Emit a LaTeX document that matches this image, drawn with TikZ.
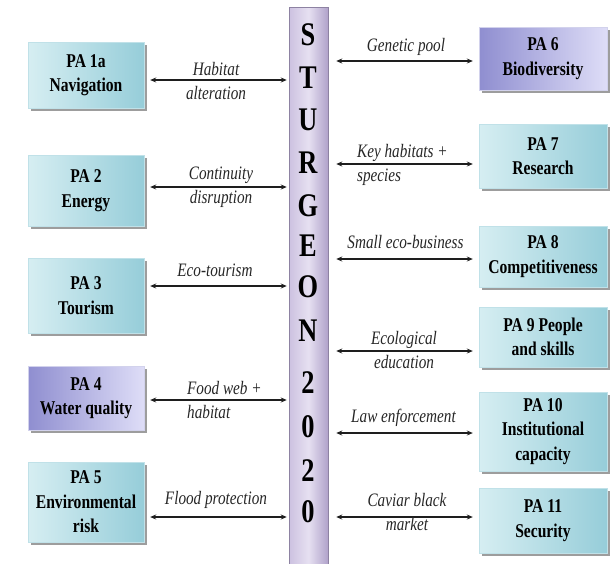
\documentclass[tikz,border=0pt]{standalone}
\usepackage{fontspec}
\setmainfont{Liberation Serif}
\newfontfamily\cf{Liberation Serif}[FakeStretch=0.8]
\usetikzlibrary{arrows.meta,shadows}
\definecolor{tealL}{HTML}{D6EEF2}
\definecolor{tealD}{HTML}{96CDD9}
\definecolor{lavD}{HTML}{8F8ED0}
\definecolor{lavL}{HTML}{DEDDF7}
\definecolor{barL}{HTML}{CCC1E0}
\definecolor{barM}{HTML}{E6E0F1}
\definecolor{barR}{HTML}{B0A2CA}
\definecolor{arrowc}{HTML}{1E1E1E}
\tikzset{
 pabox/.style={rectangle, inner sep=0pt, left color=tealL, right color=tealD, draw=tealD!60!white, line width=0.4pt,
   drop shadow={shadow xshift=2.5pt, shadow yshift=-2.5pt, fill=black!55, opacity=0.7},
   align=center, font=\cf\bfseries\fontsize{19.5}{24.5}\selectfont, text=black},
 lavbox/.style={pabox, left color=lavD, right color=lavL, draw=lavD!40!white},
 lbl/.style={align=center, font=\cf\itshape\fontsize{19}{23.5}\selectfont, text=black!85, inner sep=2pt},
 lbll/.style={lbl, align=left, anchor=west},
 link/.style={{Stealth[length=6pt,width=5pt]}-{Stealth[length=6pt,width=5pt]}, line width=1.1pt, draw=arrowc},
 letter/.style={font=\cf\bfseries\fontsize{33}{33}\selectfont, inner sep=0pt, text=black}
}
\begin{document}
\begin{tikzpicture}[x=1pt,y=-1pt]
\useasboundingbox (0,0) rectangle (612,563);
% central bar
\node[rectangle, inner sep=0pt, minimum width=39pt, minimum height=558pt,
  left color=barL, right color=barR, middle color=barM, draw=barR!80!black, line width=0.5pt] (bar) at (308.5,286) {};
\node[letter] (l1) at (308,35) {S};
\node[letter] (l2) at (308,78) {T};
\node[letter] (l3) at (308,120) {U};
\node[letter] (l4) at (308,163) {R};
\node[letter] (l5) at (308,206) {G};
\node[letter] (l6) at (308,246) {E};
\node[letter] (l7) at (308,287) {O};
\node[letter] (l8) at (308,331) {N};
\node[letter] (l9) at (308,383) {2};
\node[letter] (l10) at (308,427) {0};
\node[letter] (l11) at (308,471) {2};
\node[letter] (l12) at (308,512) {0};
% left boxes
\node[pabox, minimum width=116pt, minimum height=66pt] (pa1) at (86,75) {PA 1a\\Navigation};
\node[pabox, minimum width=116pt, minimum height=71pt] (pa2) at (86,190.5) {PA 2\\Energy};
\node[pabox, minimum width=116pt, minimum height=75pt] (pa3) at (86,295.5) {PA 3\\Tourism};
\node[lavbox, minimum width=116pt, minimum height=64pt] (pa4) at (86,398) {PA 4\\Water quality};
\node[pabox, minimum width=116pt, minimum height=80pt] (pa5) at (86,502) {PA 5\\Environmental\\risk};
% right boxes
\node[lavbox, minimum width=128pt, minimum height=63pt] (pa6) at (543,58.5) {PA 6\\Biodiversity};
\node[pabox, minimum width=128pt, minimum height=64pt] (pa7) at (543,156) {PA 7\\Research};
\node[pabox, minimum width=128pt, minimum height=61pt] (pa8) at (543,256.5) {PA 8\\Competitiveness};
\node[pabox, minimum width=128pt, minimum height=60pt] (pa9) at (543,337) {PA 9 People\\and skills};
\node[pabox, minimum width=128pt, minimum height=79pt] (pa10) at (543,431.5) {PA 10\\Institutional\\capacity};
\node[pabox, minimum width=128pt, minimum height=65pt] (pa11) at (543,520.5) {PA 11\\Security};
% arrow levels
\coordinate (y1) at (0,80);
\coordinate (y2) at (0,187);
\coordinate (y3) at (0,286);
\coordinate (y4) at (0,400);
\coordinate (y5) at (0,517);
\coordinate (y6) at (0,61);
\coordinate (y7) at (0,164);
\coordinate (y8) at (0,259);
\coordinate (y9) at (0,351);
\coordinate (y10) at (0,433);
\coordinate (y11) at (0,517);
% left connectors
\draw[link, shorten <=6pt, shorten >=2pt] (pa1.east |- y1) -- (bar.west |- y1);
\draw[link, shorten <=6pt, shorten >=2pt] (pa2.east |- y2) -- (bar.west |- y2);
\draw[link, shorten <=6pt, shorten >=2pt] (pa3.east |- y3) -- (bar.west |- y3);
\draw[link, shorten <=6pt, shorten >=2pt] (pa4.east |- y4) -- (bar.west |- y4);
\draw[link, shorten <=6pt, shorten >=2pt] (pa5.east |- y5) -- (bar.west |- y5);
% right connectors
\draw[link, shorten <=8pt, shorten >=6pt] (bar.east |- y6) -- (pa6.west |- y6);
\draw[link, shorten <=8pt, shorten >=6pt] (bar.east |- y7) -- (pa7.west |- y7);
\draw[link, shorten <=8pt, shorten >=6pt] (bar.east |- y8) -- (pa8.west |- y8);
\draw[link, shorten <=8pt, shorten >=6pt] (bar.east |- y9) -- (pa9.west |- y9);
\draw[link, shorten <=8pt, shorten >=6pt] (bar.east |- y10) -- (pa10.west |- y10);
\draw[link, shorten <=8pt, shorten >=6pt] (bar.east |- y11) -- (pa11.west |- y11);
% labels
\node[lbl] (t1) at (216,81) {Habitat\\alteration};
\node[lbl] (t2) at (221,187) {Continuity\\disruption};
\node[lbl] (t3) at (215,270) {Eco-tourism};
\node[lbll] (t4) at (185,400) {Food web +\\habitat};
\node[lbl] (t5) at (216,500) {Flood protection};
\node[lbl] (t6) at (406,47) {Genetic pool};
\node[lbll] (t7) at (355,165) {Key habitats +\\species};
\node[lbl] (t8) at (405.5,242) {Small eco-business};
\node[lbl] (t9) at (404,350) {Ecological\\education};
\node[lbl] (t10) at (403.5,418) {Law enforcement};
\node[lbl] (t11) at (407,512) {Caviar black\\market};
\end{tikzpicture}
\end{document}
